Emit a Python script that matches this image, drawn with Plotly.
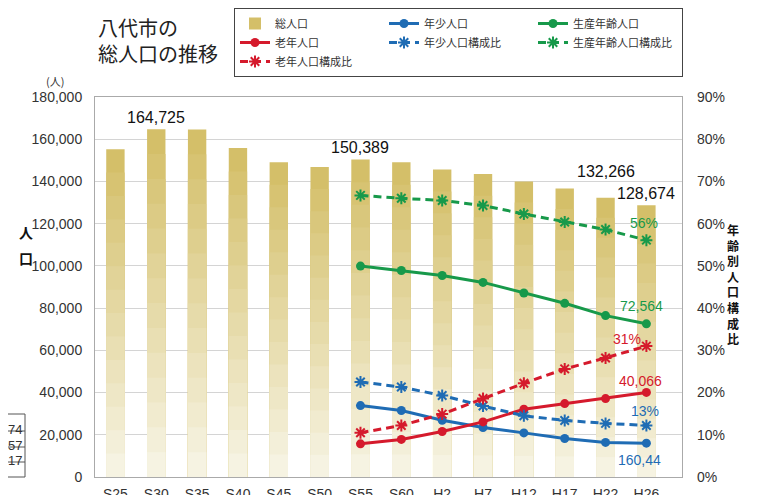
import plotly.graph_objects as go

# ---------------- data ----------------
categories = ["S25", "S30", "S35", "S40", "S45", "S50", "S55", "S60",
              "H2", "H7", "H12", "H17", "H22", "H26"]
total_pop = [155300, 164725, 164600, 155900, 149100, 146900, 150389, 149100,
             145700, 143500, 140000, 136700, 132266, 128674]

line_categories = ["S55", "S60", "H2", "H7", "H12", "H17", "H22", "H26"]
youth_pop = [33840, 31480, 26900, 23450, 20900, 18260, 16380, 16044]
working_pop = [99900, 97830, 95470, 92170, 87170, 82270, 76450, 72564]
elderly_pop = [15720, 17790, 21570, 26100, 32090, 34780, 37140, 40066]

youth_ratio = [0.225, 0.213, 0.193, 0.168, 0.145, 0.134, 0.127, 0.122]
working_ratio = [0.667, 0.660, 0.655, 0.643, 0.623, 0.604, 0.586, 0.561]
elderly_ratio = [0.105, 0.122, 0.149, 0.186, 0.222, 0.256, 0.282, 0.310]

left_ticks = [0, 20000, 40000, 60000, 80000, 100000, 120000, 140000, 160000, 180000]
right_ticks = [0, 0.1, 0.2, 0.3, 0.4, 0.5, 0.6, 0.7, 0.8, 0.9]

labelled_totals = ["S30", "S55", "H22", "H26"]
end_labels_youth = ["13%", "160,44"]
end_labels_working = ["56%", "72,564"]
end_labels_elderly = ["31%", "40,066"]
table_fragment = ["74", "57", "17"]

# ---------------- style ----------------
BLUE = "#1f6cb4"
GREEN = "#17994a"
RED = "#d51a2c"
GOLD = (212, 191, 105)
PALE = (246, 243, 226)
NUM_FONT = "Liberation Sans, Arial, sans-serif"
JP_FONT = "Noto Sans CJK JP, sans-serif"

# the page adds an 8px body margin; the figure is sized to fill the rest
OFF = 8
W, H = 758 - OFF, 495 - OFF
ML, MR, MT, MB = 95 - OFF, 76, 97 - OFF, 18
PW, PH = W - ML - MR, H - MT - MB


def px_x(x):
    """reference-image x pixel -> paper coordinate"""
    return (x - OFF - ML) / PW


def px_y(y):
    """reference-image y pixel -> paper coordinate"""
    return 1 - (y - OFF - MT) / PH


fig = go.Figure()

# gradient bars (overlaid, shrinking, lightening toward the bottom)
N = 14
for k in range(N):
    t = k / (N - 1)
    c = tuple(round(GOLD[i] + (PALE[i] - GOLD[i]) * t) for i in range(3))
    frac = (N - k) / N
    fig.add_trace(go.Bar(
        x=categories, y=[v * frac for v in total_pop],
        width=0.45, name="総人口", showlegend=(k == 0),
        marker=dict(color="rgb(%d,%d,%d)" % c, line=dict(width=0)),
        hoverinfo="skip" if k else "x+y",
    ))

fig.add_trace(go.Scatter(x=line_categories, y=youth_pop, name="年少人口",
                         mode="lines+markers", line=dict(color=BLUE, width=3),
                         marker=dict(size=9, color=BLUE)))
fig.add_trace(go.Scatter(x=line_categories, y=working_pop, name="生産年齢人口",
                         mode="lines+markers", line=dict(color=GREEN, width=3),
                         marker=dict(size=9, color=GREEN)))
fig.add_trace(go.Scatter(x=line_categories, y=elderly_pop, name="老年人口",
                         mode="lines+markers", line=dict(color=RED, width=3),
                         marker=dict(size=9, color=RED)))

for name, vals, col in [("年少人口構成比", youth_ratio, BLUE),
                        ("生産年齢人口構成比", working_ratio, GREEN),
                        ("老年人口構成比", elderly_ratio, RED)]:
    fig.add_trace(go.Scatter(
        x=line_categories, y=vals, name=name, yaxis="y2",
        mode="lines+markers", line=dict(color=col, width=3, dash="8px,5px"),
        marker=dict(symbol="asterisk-open", size=10, color=col,
                    line=dict(color=col, width=2)),
    ))

annotations = []
# total labels
for cat in labelled_totals:
    v = total_pop[categories.index(cat)]
    annotations.append(dict(x=cat, y=v, xref="x", yref="y", text=f"{v:,}",
                            showarrow=False, yanchor="middle",
                            yshift=26 if cat == "H22" else 12,
                            font=dict(family=NUM_FONT, size=16, color="#111")))

# end-of-line labels
last = line_categories[-1]
for text, y, yref, col, xs, ys in [
    (end_labels_working[0], working_ratio[-1], "y2", GREEN, -2, 17),
    (end_labels_working[1], working_pop[-1], "y", GREEN, -5, 18),
    (end_labels_elderly[0], elderly_ratio[-1], "y2", RED, -19, 7),
    (end_labels_elderly[1], elderly_pop[-1], "y", RED, -6, 11),
    (end_labels_youth[0], youth_ratio[-1], "y2", BLUE, -1, 14),
    (end_labels_youth[1], youth_pop[-1], "y", BLUE, -7, -17),
]:
    annotations.append(dict(x=last, y=y, xref="x", yref=yref, text=text,
                            showarrow=False, xshift=xs, yshift=ys,
                            font=dict(family=NUM_FONT, size=14, color=col)))

# title
annotations.append(dict(x=px_x(96), y=px_y(11), xref="paper", yref="paper",
                        xanchor="left", yanchor="top", align="left",
                        text="八代市の<br>総人口の推移", showarrow=False,
                        font=dict(family=JP_FONT, size=20, color="#222")))
# unit
annotations.append(dict(x=px_x(44), y=px_y(71), xref="paper", yref="paper",
                        text="(人)", showarrow=False,
                        font=dict(family=JP_FONT, size=11, color="#333")))
# left axis title (vertical)
for ch, yy in [("人", 232), ("口", 258)]:
    annotations.append(dict(x=px_x(17), y=px_y(yy), xref="paper", yref="paper",
                            text="<b>%s</b>" % ch, showarrow=False,
                            font=dict(family=JP_FONT, size=14, color="#111")))
# right axis title (vertical)
annotations.append(dict(x=px_x(741), y=px_y(284), xref="paper", yref="paper",
                        text="<br>".join("<b>%s</b>" % ch for ch in "年齢別人口構成比"),
                        showarrow=False, align="center",
                        font=dict(family=JP_FONT, size=12, color="#111")))
# cropped table fragment at left edge
for i, txt in enumerate(table_fragment):
    annotations.append(dict(x=px_x(24), y=px_y(439 + i * 15.5), xref="paper",
                            yref="paper", text=txt, showarrow=False,
                            xanchor="right",
                            font=dict(family=NUM_FONT, size=13, color="#333")))

shapes = []
for yy in [414, 431, 447, 462, 477]:
    shapes.append(dict(type="line", xref="paper", yref="paper",
                       x0=px_x(6), x1=px_x(25), y0=px_y(yy), y1=px_y(yy),
                       line=dict(color="#555", width=1)))
shapes.append(dict(type="line", xref="paper", yref="paper",
                   x0=px_x(25), x1=px_x(25), y0=px_y(414), y1=px_y(477),
                   line=dict(color="#555", width=1)))

fig.update_layout(
    width=W, height=H,
    margin=dict(l=ML, r=MR, t=MT, b=MB, autoexpand=False),
    paper_bgcolor="white", plot_bgcolor="white",
    barmode="overlay", bargap=0.55,
    font=dict(family=NUM_FONT, color="#333"),
    showlegend=True,
    legend=dict(orientation="h", x=px_x(234), y=px_y(8), xanchor="left",
                yanchor="top", entrywidth=104, traceorder="normal",
                bordercolor="#444", borderwidth=1, bgcolor="white",
                font=dict(family=JP_FONT, size=11, color="#333"),
                itemwidth=30),
    xaxis=dict(type="category", categoryorder="array", categoryarray=categories,
               showline=True, linecolor="#aaaaaa", mirror=True, ticks="",
               showgrid=False, automargin=False, ticklabelstandoff=4,
               tickfont=dict(family=NUM_FONT, size=14, color="#333")),
    yaxis=dict(range=[0, 180000], tickvals=left_ticks, tickformat=",",
               showgrid=True, gridcolor="#d4d4d4", gridwidth=1,
               showline=True, linecolor="#aaaaaa", mirror=True,
               zeroline=False, ticks="", automargin=False,
               ticklabelstandoff=9,
               tickfont=dict(family=NUM_FONT, size=14, color="#333")),
    yaxis2=dict(range=[0, 0.9], tickvals=right_ticks, tickformat=".0%",
                overlaying="y", side="right", showgrid=False, zeroline=False,
                showline=False, ticks="", automargin=False,
                ticklabelstandoff=14,
                tickfont=dict(family=NUM_FONT, size=14, color="#333")),
    yaxis3=dict(range=[0, 180000], dtick=40000, tick0=0, overlaying="y",
                anchor="x", showgrid=True, gridcolor="#a9a9a9", gridwidth=2,
                showticklabels=False, zeroline=False, showline=False,
                ticks="", automargin=False),
    annotations=annotations,
    shapes=shapes,
)

fig.write_html("out.html")
